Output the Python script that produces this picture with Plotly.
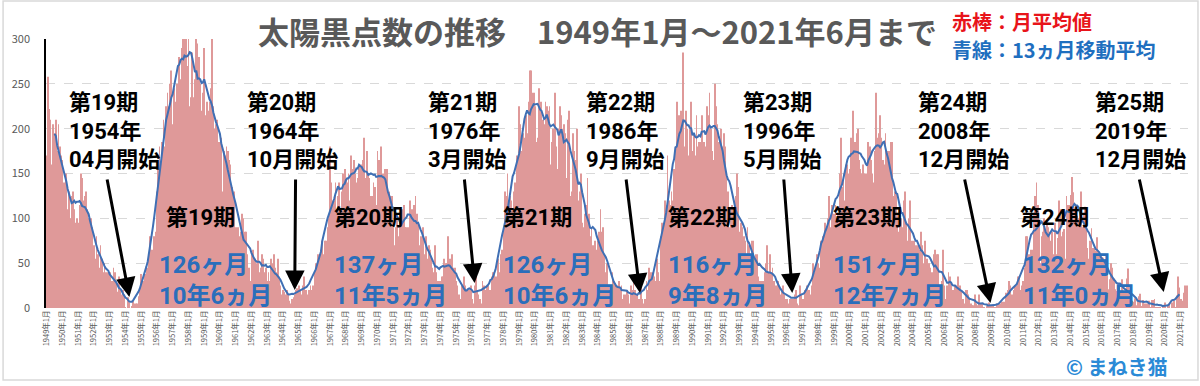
import pandas as pd
import plotly.graph_objects as go

# ---------------- data: monthly mean sunspot number (Jan..Dec per row) ----------------
m1949 = [170, 258, 222, 210, 160, 205, 195, 210, 175, 205, 180, 170]
m1950s = [
    165, 140, 120, 150, 110, 130, 100, 125, 130, 110, 95, 100,   # 1950
    95, 115, 150, 145, 120, 125, 130, 110, 100, 85, 100, 90,     # 1951
    70, 55, 80, 60, 45, 70, 55, 40, 50, 40, 35, 40,              # 1952
    40, 25, 30, 45, 40, 30, 18, 35, 20, 15, 20, 15,              # 1953
    1, 0, 12, 6, 0, 2, 8, 5, 5, 5, 13, 19,                       # 1954
    38, 30, 30, 38, 45, 45, 60, 80, 65, 60, 80, 85,              # 1955
    130, 155, 180, 160, 185, 210, 180, 225, 240, 225, 250, 265,  # 1956
    205, 245, 230, 250, 250, 280, 255, 290, 330, 359, 300, 270,  # 1957
    330, 225, 235, 285, 235, 255, 300, 295, 280, 250, 220, 240,  # 1958
    290, 215, 230, 220, 230, 245, 300, 225, 200, 205, 210, 185,  # 1959
]
m1960s = [
    180, 190, 130, 175, 170, 180, 175, 165, 160, 135, 120, 130,  # 1960
    90, 75, 90, 80, 85, 105, 100, 85, 85, 60, 45, 30,            # 1961
    60, 65, 50, 55, 50, 75, 40, 45, 60, 55, 40, 45,              # 1962
    30, 40, 30, 55, 50, 60, 45, 40, 55, 35, 25, 15,              # 1963
    20, 18, 15, 20, 15, 8, 5, 10, 12, 15, 20, 22,                # 1964
    25, 20, 15, 25, 35, 20, 20, 15, 20, 25, 20, 25,              # 1965
    40, 50, 45, 60, 60, 65, 75, 60, 75, 75, 90, 100,             # 1966
    180, 140, 120, 120, 140, 110, 125, 140, 110, 130, 150, 155,  # 1967
    145, 140, 150, 120, 170, 155, 165, 150, 140, 145, 155, 160,  # 1968
    160, 165, 190, 145, 175, 150, 145, 125, 125, 140, 135, 115,  # 1969
]
m1970s = [
    175, 165, 155, 180, 150, 140, 155, 155, 120, 130, 125, 125,  # 1970
    90, 70, 90, 100, 80, 105, 100, 110, 115, 90, 90, 90,         # 1971
    75, 120, 110, 110, 115, 125, 105, 95, 70, 80, 75, 90,        # 1972
    60, 80, 55, 70, 65, 55, 45, 40, 70, 40, 30, 30,              # 1973
    30, 35, 35, 55, 50, 50, 80, 55, 50, 60, 45, 45,              # 1974
    30, 25, 15, 10, 25, 25, 35, 25, 20, 15, 20, 25,              # 1975
    10, 5, 25, 35, 20, 15, 10, 5, 30, 25, 20, 25,                # 1976
    25, 20, 20, 35, 40, 40, 35, 35, 55, 40, 60, 65,              # 1977
    90, 130, 125, 150, 110, 125, 120, 110, 130, 140, 170, 170,   # 1978
    225, 205, 175, 195, 190, 215, 195, 230, 265, 265, 240, 240,  # 1979
]
m1980s = [
    225, 185, 190, 245, 230, 230, 210, 205, 230, 225, 220, 225,  # 1980
    160, 185, 200, 240, 180, 155, 200, 225, 215, 200, 205, 195,  # 1981
    145, 210, 220, 125, 130, 195, 175, 165, 200, 120, 130, 150,  # 1982
    95, 90, 105, 115, 145, 105, 80, 90, 70, 55, 75, 65,          # 1983
    75, 85, 110, 85, 90, 60, 40, 50, 25, 20, 25, 40,             # 1984
    30, 25, 25, 25, 30, 20, 25, 10, 15, 15, 20, 15,              # 1985
    5, 25, 20, 30, 20, 5, 15, 10, 5, 30, 10, 5,                  # 1986
    10, 30, 20, 45, 40, 40, 40, 35, 30, 55, 40, 30,              # 1987
    80, 95, 95, 120, 115, 170, 120, 115, 130, 120, 155, 180,     # 1988
    230, 200, 215, 220, 190, 285, 180, 220, 200, 170, 200, 230,  # 1989
]
m1990s = [
    175, 195, 170, 215, 180, 185, 185, 215, 165, 185, 180, 225,  # 1990
    215, 240, 200, 175, 165, 250, 225, 205, 185, 175, 200, 180,  # 1991
    195, 180, 150, 130, 90, 110, 115, 95, 120, 125, 150, 135,    # 1992
    85, 95, 90, 80, 75, 60, 90, 70, 60, 75, 75, 55,              # 1993
    60, 60, 35, 30, 30, 30, 30, 40, 50, 70, 40, 60,              # 1994
    40, 45, 30, 25, 25, 30, 25, 15, 20, 25, 15, 10,              # 1995
    10, 5, 10, 10, 10, 10, 15, 20, 5, 3, 25, 15,                 # 1996
    10, 10, 20, 25, 20, 20, 15, 25, 50, 40, 45, 60,              # 1997
    50, 45, 75, 80, 80, 95, 90, 100, 125, 90, 115, 100,          # 1998
    105, 115, 100, 105, 150, 190, 135, 150, 120, 160, 160, 150,  # 1999
]
m2000s = [
    155, 190, 220, 185, 185, 195, 200, 165, 155, 150, 160, 150,  # 2000
    150, 140, 185, 180, 165, 150, 140, 175, 240, 190, 195, 215,  # 2001
    190, 165, 160, 195, 175, 140, 175, 185, 185, 125, 130, 130,  # 2002
    105, 85, 95, 100, 90, 120, 130, 95, 75, 100, 120, 75,        # 2003
    60, 75, 70, 60, 70, 65, 85, 70, 50, 75, 55, 55,              # 2004
    50, 45, 40, 40, 60, 65, 60, 60, 25, 20, 30, 65,              # 2005
    25, 10, 25, 40, 35, 25, 20, 20, 25, 25, 35, 20,              # 2006
    25, 20, 10, 5, 20, 20, 15, 10, 5, 3, 3, 15,                  # 2007
    5, 3, 15, 5, 5, 5, 1, 0, 2, 5, 6, 2,                         # 2008
    2, 2, 1, 1, 5, 4, 5, 0, 7, 7, 7, 17,                         # 2009
]
m2010s = [
    20, 30, 25, 15, 15, 20, 25, 25, 35, 35, 20, 25,              # 2010
    30, 45, 80, 80, 60, 60, 65, 65, 105, 125, 140, 115,          # 2011
    95, 50, 80, 85, 100, 85, 95, 90, 85, 75, 85, 60,             # 2012
    95, 60, 78, 120, 110, 80, 85, 88, 55, 125, 115, 115,         # 2013
    126, 146, 129, 112, 112, 103, 100, 107, 130, 90, 104, 113,   # 2014
    93, 67, 55, 75, 89, 67, 66, 64, 79, 64, 62, 58,              # 2015
    57, 56, 54, 38, 52, 21, 32, 50, 45, 33, 21, 19,              # 2016
    26, 26, 18, 32, 19, 19, 18, 33, 44, 13, 6, 8,                # 2017
    7, 11, 3, 9, 13, 16, 2, 9, 3, 5, 5, 3,                       # 2018
    8, 1, 9, 9, 10, 1, 1, 1, 1, 0, 1, 2,                         # 2019
]
m2020s = [
    6, 0, 2, 5, 0, 6, 6, 8, 1, 14, 35, 23,                       # 2020
    10, 8, 17, 25, 21, 25,                                       # 2021 (Jan-Jun)
]

# cycle annotations
cycle_names = ["第19期", "第20期", "第21期", "第22期", "第23期", "第24期", "第25期"]
cycle_start_year = [1954, 1964, 1976, 1986, 1996, 2008, 2019]
cycle_start_month = [4, 10, 3, 9, 5, 12, 12]
cycle_start_text = ["04月開始", "10月開始", "3月開始", "9月開始", "5月開始", "12月開始", "12月開始"]
cycle_len_months = ["126ヶ月", "137ヶ月", "126ヶ月", "116ヶ月", "151ヶ月", "132ヶ月"]
cycle_len_years = ["10年6ヵ月", "11年5ヵ月", "10年6ヵ月", "9年8ヵ月", "12年7ヵ月", "11年0ヵ月"]

# ---------------- assemble ----------------
monthly = m1949 + m1950s + m1960s + m1970s + m1980s + m1990s + m2000s + m2010s + m2020s
n = len(monthly)
idx = list(range(n))
years = [1949 + i // 12 for i in idx]
months = [i % 12 + 1 for i in idx]
labels = [f"{y}年{m}月" for y, m in zip(years, months)]
sma13 = pd.Series(monthly, dtype=float).rolling(13, center=True).mean()

tick_idx = [i for i in idx if months[i] == 1]
tick_txt = [labels[i] for i in tick_idx]

FONT = "Noto Sans CJK JP"
FONT_STACK = "Roboto, 'Noto Sans CJK JP'"
W, H = 1200, 386
PL, PR, PT, PB = 44, 1188, 39, 308


def px(xp):
    return (xp - PL) / (PR - PL)


def py(yp):
    return (PB - yp) / (PB - PT)


fig = go.Figure()
fig.add_trace(go.Bar(
    x=idx, y=monthly, customdata=labels,
    marker=dict(color="#df9999", line=dict(width=0)),
    hovertemplate="%{customdata}: %{y}<extra></extra>", name="月平均値",
))
fig.add_trace(go.Scatter(
    x=idx, y=sma13, mode="lines", line=dict(color="#3f6fb4", width=2),
    name="13ヵ月移動平均", hoverinfo="skip",
))

ann = []
# title
ann.append(dict(x=px(596), y=py(31), xref="paper", yref="paper", showarrow=False,
                text="<b>太陽黒点数の推移　1949年1月～2021年6月まで</b>",
                font=dict(family=FONT, size=31, color="#595959"),
                xanchor="center", yanchor="middle"))
# legend texts
ann.append(dict(x=px(950), y=py(22), xref="paper", yref="paper", showarrow=False,
                text="<b>赤棒：月平均値</b>", font=dict(family=FONT, size=20, color="#e8141a"),
                xanchor="left", yanchor="middle"))
ann.append(dict(x=px(950), y=py(49), xref="paper", yref="paper", showarrow=False,
                text="<b>青線：13ヵ月移動平均</b>", font=dict(family=FONT, size=20, color="#1f6fbf"),
                xanchor="left", yanchor="middle"))

# start-of-cycle labels and arrows
group_left = [65, 243, 425, 583, 740, 916, 1093]
arrow_tail = [(105, 178), (294, 178), (463, 178), (625, 178), (783, 178), (964, 178), (1139, 178)]
arrow_tip_y = [297, 290, 283, 293, 293, 303, 292]
for k in range(len(cycle_names)):
    txt = "<br>".join(f"<b>{t}</b>" for t in
                      [cycle_names[k], f"{cycle_start_year[k]}年", cycle_start_text[k]])
    ann.append(dict(x=px(group_left[k]), y=py(131), xref="paper", yref="paper", showarrow=False,
                    text=txt, font=dict(family=FONT_STACK, size=22, color="#000000"),
                    xanchor="left", yanchor="middle", align="left"))
    start_i = (cycle_start_year[k] - 1949) * 12 + cycle_start_month[k] - 1
    tip_x = PL + (start_i + 0.5) * (PR - PL) / n
    ann.append(dict(x=start_i, y=py(arrow_tip_y[k]), xref="x", yref="paper", text="",
                    showarrow=True, arrowhead=2, arrowsize=1.3, arrowwidth=3, arrowcolor="#000000",
                    ax=arrow_tail[k][0] - tip_x, ay=arrow_tail[k][1] - arrow_tip_y[k],
                    axref="pixel", ayref="pixel", standoff=0))

# cycle length labels
name_left = [162, 330, 500, 665, 830, 1018]
len_left = [155, 330, 500, 665, 830, 1021]
for k in range(len(cycle_len_months)):
    ann.append(dict(x=px(name_left[k]), y=py(217), xref="paper", yref="paper", showarrow=False,
                    text=f"<b>{cycle_names[k]}</b>", font=dict(family=FONT_STACK, size=22, color="#000000"),
                    xanchor="left", yanchor="middle"))
    ann.append(dict(x=px(len_left[k]), y=py(280), xref="paper", yref="paper", showarrow=False,
                    text=f"<b>{cycle_len_months[k]}</b><br><b>{cycle_len_years[k]}</b>",
                    font=dict(family=FONT_STACK, size=24, color="#2a6ebb"),
                    xanchor="left", yanchor="middle", align="left"))

# copyright
ann.append(dict(x=px(1170), y=py(366), xref="paper", yref="paper", showarrow=False,
                text="<b>© まねき猫</b>", font=dict(family=FONT, size=20, color="#2b8ad6"),
                xanchor="right", yanchor="middle"))

shapes = [dict(type="rect", xref="paper", yref="paper",
               x0=px(1), x1=px(1198), y0=py(380), y1=py(1),
               line=dict(color="#d9d9d9", width=1.5), fillcolor="rgba(0,0,0,0)", layer="below")]

fig.update_layout(
    width=W, height=H,
    margin=dict(l=PL, r=W - PR, t=PT, b=H - PB),
    paper_bgcolor="white", plot_bgcolor="white",
    showlegend=False, bargap=0.4,
    font=dict(family=FONT, color="#595959"),
    annotations=ann, shapes=shapes,
    xaxis=dict(range=[-0.5, n - 0.5], tickvals=tick_idx, ticktext=tick_txt, tickangle=-90,
               tickfont=dict(size=7.5, color="#595959"), showgrid=False, zeroline=False,
               showline=False, ticks=""),
    yaxis=dict(range=[0, 300], tickvals=[0, 50, 100, 150, 200, 250, 300],
               tickfont=dict(size=11, color="#595959"), showgrid=True, gridcolor="#d9d9d9",
               griddash="dash", zeroline=False, showline=True, linecolor="#000000", linewidth=1.5,
               ticks="", ticklabelstandoff=12),
)

fig.write_html("out.html", config={"displayModeBar": False},
               post_script="document.body.style.margin='0px';")
